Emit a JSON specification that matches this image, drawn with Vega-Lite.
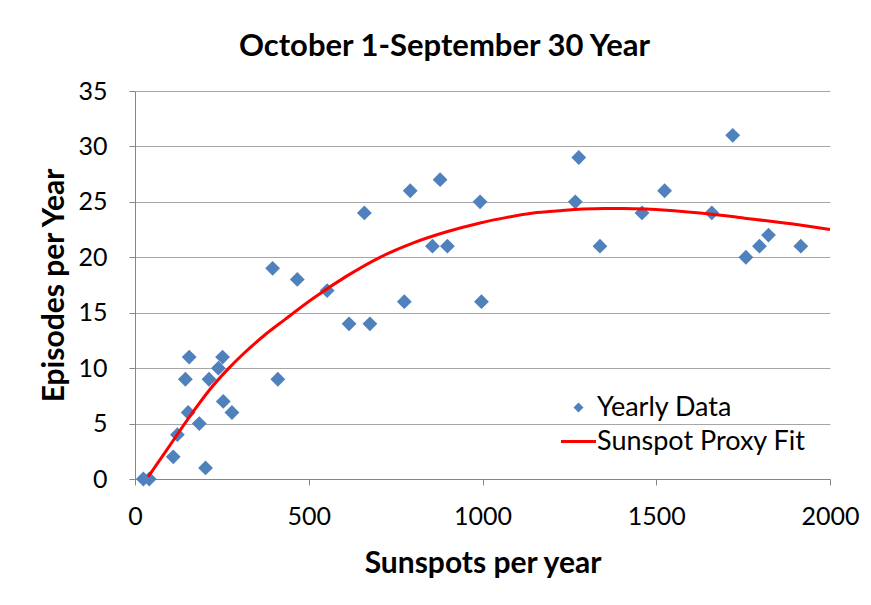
{
  "$schema": "https://vega.github.io/schema/vega-lite/v6.json",
  "width": 695,
  "height": 388,
  "autosize": {"type": "none"},
  "padding": {"left": 135, "top": 91, "right": 41, "bottom": 126},
  "background": "white",
  "title": {
    "text": "October 1-September 30 Year",
    "font": "Lato",
    "fontSize": 31,
    "fontWeight": "bold",
    "color": "black",
    "anchor": "middle",
    "dx": -38,
    "offset": 16
  },
  "config": {"view": {"stroke": null}, "font": "Lato"},
  "datasets": {
    "yearly": [
      {"sunspots": 24, "episodes": 0, "series": "Yearly Data"},
      {"sunspots": 41, "episodes": 0, "series": "Yearly Data"},
      {"sunspots": 110, "episodes": 2, "series": "Yearly Data"},
      {"sunspots": 203, "episodes": 1, "series": "Yearly Data"},
      {"sunspots": 122, "episodes": 4, "series": "Yearly Data"},
      {"sunspots": 153, "episodes": 6, "series": "Yearly Data"},
      {"sunspots": 185, "episodes": 5, "series": "Yearly Data"},
      {"sunspots": 254, "episodes": 7, "series": "Yearly Data"},
      {"sunspots": 279, "episodes": 6, "series": "Yearly Data"},
      {"sunspots": 145, "episodes": 9, "series": "Yearly Data"},
      {"sunspots": 213, "episodes": 9, "series": "Yearly Data"},
      {"sunspots": 240, "episodes": 10, "series": "Yearly Data"},
      {"sunspots": 156, "episodes": 11, "series": "Yearly Data"},
      {"sunspots": 252, "episodes": 11, "series": "Yearly Data"},
      {"sunspots": 411, "episodes": 9, "series": "Yearly Data"},
      {"sunspots": 396, "episodes": 19, "series": "Yearly Data"},
      {"sunspots": 467, "episodes": 18, "series": "Yearly Data"},
      {"sunspots": 553, "episodes": 17, "series": "Yearly Data"},
      {"sunspots": 616, "episodes": 14, "series": "Yearly Data"},
      {"sunspots": 676, "episodes": 14, "series": "Yearly Data"},
      {"sunspots": 660, "episodes": 24, "series": "Yearly Data"},
      {"sunspots": 775, "episodes": 16, "series": "Yearly Data"},
      {"sunspots": 792, "episodes": 26, "series": "Yearly Data"},
      {"sunspots": 856, "episodes": 21, "series": "Yearly Data"},
      {"sunspots": 899, "episodes": 21, "series": "Yearly Data"},
      {"sunspots": 878, "episodes": 27, "series": "Yearly Data"},
      {"sunspots": 993, "episodes": 25, "series": "Yearly Data"},
      {"sunspots": 997, "episodes": 16, "series": "Yearly Data"},
      {"sunspots": 1277, "episodes": 29, "series": "Yearly Data"},
      {"sunspots": 1267, "episodes": 25, "series": "Yearly Data"},
      {"sunspots": 1338, "episodes": 21, "series": "Yearly Data"},
      {"sunspots": 1459, "episodes": 24, "series": "Yearly Data"},
      {"sunspots": 1524, "episodes": 26, "series": "Yearly Data"},
      {"sunspots": 1660, "episodes": 24, "series": "Yearly Data"},
      {"sunspots": 1720, "episodes": 31, "series": "Yearly Data"},
      {"sunspots": 1758, "episodes": 20, "series": "Yearly Data"},
      {"sunspots": 1797, "episodes": 21, "series": "Yearly Data"},
      {"sunspots": 1823, "episodes": 22, "series": "Yearly Data"},
      {"sunspots": 1916, "episodes": 21, "series": "Yearly Data"}
    ],
    "fit": [
      {"sunspots": 38, "episodes": 0.2, "series": "Sunspot Proxy Fit"},
      {"sunspots": 91, "episodes": 2.6, "series": "Sunspot Proxy Fit"},
      {"sunspots": 130, "episodes": 4.4, "series": "Sunspot Proxy Fit"},
      {"sunspots": 168, "episodes": 6.1, "series": "Sunspot Proxy Fit"},
      {"sunspots": 216, "episodes": 8.1, "series": "Sunspot Proxy Fit"},
      {"sunspots": 264, "episodes": 9.8, "series": "Sunspot Proxy Fit"},
      {"sunspots": 312, "episodes": 11.3, "series": "Sunspot Proxy Fit"},
      {"sunspots": 370, "episodes": 12.9, "series": "Sunspot Proxy Fit"},
      {"sunspots": 432, "episodes": 14.4, "series": "Sunspot Proxy Fit"},
      {"sunspots": 513, "episodes": 16.3, "series": "Sunspot Proxy Fit"},
      {"sunspots": 609, "episodes": 18.3, "series": "Sunspot Proxy Fit"},
      {"sunspots": 705, "episodes": 20.0, "series": "Sunspot Proxy Fit"},
      {"sunspots": 801, "episodes": 21.3, "series": "Sunspot Proxy Fit"},
      {"sunspots": 897, "episodes": 22.3, "series": "Sunspot Proxy Fit"},
      {"sunspots": 993, "episodes": 23.1, "series": "Sunspot Proxy Fit"},
      {"sunspots": 1070, "episodes": 23.6, "series": "Sunspot Proxy Fit"},
      {"sunspots": 1146, "episodes": 24.0, "series": "Sunspot Proxy Fit"},
      {"sunspots": 1220, "episodes": 24.2, "series": "Sunspot Proxy Fit"},
      {"sunspots": 1290, "episodes": 24.35, "series": "Sunspot Proxy Fit"},
      {"sunspots": 1350, "episodes": 24.4, "series": "Sunspot Proxy Fit"},
      {"sunspots": 1405, "episodes": 24.4, "series": "Sunspot Proxy Fit"},
      {"sunspots": 1470, "episodes": 24.35, "series": "Sunspot Proxy Fit"},
      {"sunspots": 1530, "episodes": 24.25, "series": "Sunspot Proxy Fit"},
      {"sunspots": 1626, "episodes": 24.0, "series": "Sunspot Proxy Fit"},
      {"sunspots": 1700, "episodes": 23.75, "series": "Sunspot Proxy Fit"},
      {"sunspots": 1760, "episodes": 23.5, "series": "Sunspot Proxy Fit"},
      {"sunspots": 1818, "episodes": 23.3, "series": "Sunspot Proxy Fit"},
      {"sunspots": 1894, "episodes": 23.0, "series": "Sunspot Proxy Fit"},
      {"sunspots": 2000, "episodes": 22.5, "series": "Sunspot Proxy Fit"}
    ]
  },
  "encoding": {
    "x": {
      "field": "sunspots",
      "type": "quantitative",
      "scale": {"domain": [0, 2000], "nice": false, "zero": false},
      "axis": {
        "title": "Sunspots per year",
        "values": [0, 500, 1000, 1500, 2000],
        "format": "d",
        "grid": false,
        "labelFlush": false,
        "labelOverlap": false,
        "domainColor": "#868686",
        "tickColor": "#868686",
        "tickSize": 6,
        "labelFont": "Lato",
        "labelFontSize": 25,
        "labelColor": "black",
        "labelPadding": 19,
        "titleFont": "Lato",
        "titleFontSize": 30,
        "titleFontWeight": "bold",
        "titleColor": "black",
        "titlePadding": 19
      }
    },
    "y": {
      "field": "episodes",
      "type": "quantitative",
      "scale": {"domain": [0, 35], "nice": false},
      "axis": {
        "title": "Episodes per Year",
        "values": [0, 5, 10, 15, 20, 25, 30, 35],
        "format": "d",
        "grid": true,
        "labelFlush": false,
        "gridColor": "#a6a6a6",
        "domainColor": "#868686",
        "tickColor": "#868686",
        "tickSize": 6,
        "labelFont": "Lato",
        "labelFontSize": 25,
        "labelColor": "black",
        "labelPadding": 22,
        "titleFont": "Lato",
        "titleFontSize": 30,
        "titleFontWeight": "bold",
        "titleColor": "black",
        "titlePadding": 8
      }
    },
    "color": {
      "field": "series",
      "type": "nominal",
      "scale": {
        "domain": ["Yearly Data", "Sunspot Proxy Fit"],
        "range": ["#4f81bd", "#ff0000"]
      },
      "legend": {
        "title": null,
        "orient": "bottom-right",
        "offset": 24,
        "labelFont": "Lato",
        "labelFontSize": 27,
        "labelColor": "black",
        "labelLimit": 400,
        "labelOffset": 5,
        "symbolSize": 1225,
        "rowPadding": 6,
        "encode": {
          "symbols": {
            "update": {
              "size": {"signal": "datum.value === 'Yearly Data' ? 100 : 1225"},
              "fill": {"signal": "datum.value === 'Yearly Data' ? '#4f81bd' : 'transparent'"},
              "stroke": {"signal": "datum.value === 'Yearly Data' ? '#4f81bd' : '#ff0000'"},
              "strokeWidth": {"signal": "datum.value === 'Yearly Data' ? 0 : 3"},
              "opacity": {"value": 1}
            }
          }
        }
      }
    }
  },
  "layer": [
    {
      "data": {"name": "yearly"},
      "mark": {"type": "point", "filled": true, "size": 220, "opacity": 1},
      "encoding": {
        "shape": {
          "field": "series",
          "type": "nominal",
          "scale": {
            "domain": ["Yearly Data", "Sunspot Proxy Fit"],
            "range": ["diamond", "stroke"]
          }
        }
      }
    },
    {
      "data": {"name": "fit"},
      "mark": {"type": "line", "strokeWidth": 3, "interpolate": "monotone"},
      "encoding": {}
    }
  ]
}
